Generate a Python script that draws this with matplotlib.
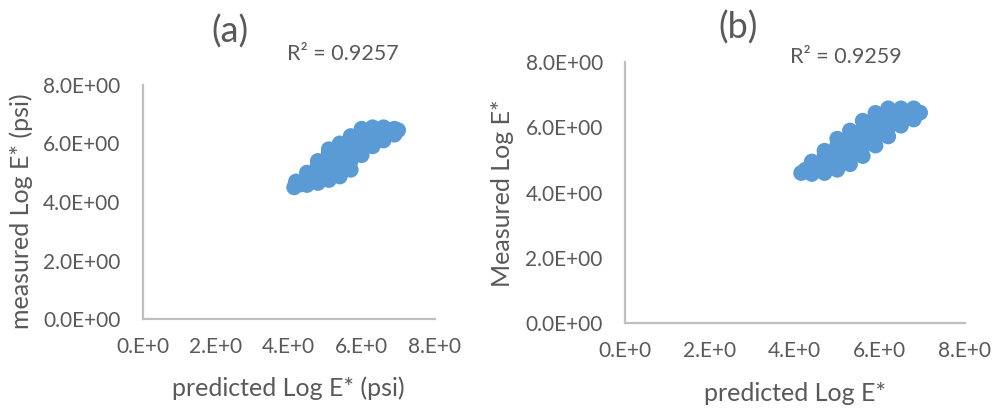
import matplotlib
matplotlib.use('Agg')
import matplotlib.pyplot as plt

# predicted / measured Log E* points
pred_a = [4.15, 4.20, 4.50, 4.50, 4.50, 4.80, 4.80, 4.80, 4.80,
          5.10, 5.10, 5.10, 5.10, 5.10, 5.40, 5.40, 5.40, 5.40, 5.40,
          5.70, 5.70, 5.70, 5.70, 5.70, 6.00, 6.00, 6.00, 6.00,
          6.30, 6.30, 6.30, 6.60, 6.60, 6.60, 6.90, 6.90, 7.00,
          4.35, 4.65, 4.95, 5.25, 5.55, 5.85, 6.15, 6.45, 6.75]
meas_a = [4.50, 4.70, 4.58, 4.85, 5.00, 4.65, 4.95, 5.25, 5.40,
          4.75, 5.05, 5.35, 5.65, 5.80, 4.87, 5.15, 5.45, 5.75, 6.00,
          5.10, 5.40, 5.70, 6.00, 6.25, 5.60, 5.90, 6.20, 6.50,
          5.90, 6.20, 6.55, 6.10, 6.35, 6.55, 6.30, 6.50, 6.45,
          4.60, 4.80, 5.10, 5.30, 5.60, 5.90, 6.10, 6.35, 6.45]

pred_b = [4.15, 4.40, 4.40, 4.40, 4.70, 4.70, 4.70, 4.70,
          5.00, 5.00, 5.00, 5.00, 5.00, 5.30, 5.30, 5.30, 5.30, 5.30,
          5.60, 5.60, 5.60, 5.60, 5.60, 5.90, 5.90, 5.90, 5.90, 5.90,
          6.20, 6.20, 6.20, 6.20, 6.50, 6.50, 6.50, 6.80, 6.80, 6.80, 6.95,
          4.25, 4.55, 4.85, 5.15, 5.45, 5.75, 6.05, 6.35, 6.65]
meas_b = [4.60, 4.57, 4.80, 4.95, 4.60, 4.85, 5.10, 5.28,
          4.70, 4.95, 5.20, 5.45, 5.65, 4.87, 5.15, 5.40, 5.65, 5.90,
          5.12, 5.40, 5.65, 5.95, 6.20, 5.44, 5.70, 5.95, 6.20, 6.44,
          5.72, 6.00, 6.30, 6.58, 6.05, 6.30, 6.58, 6.24, 6.45, 6.58, 6.45,
          4.70, 4.75, 5.00, 5.30, 5.55, 5.85, 6.10, 6.40, 6.40]

ticks = [0, 2, 4, 6, 8]
xtick_labels = ['0.E+0', '2.E+0', '4.E+0', '6.E+0', '8.E+0']
ytick_labels = ['0.0E+00', '2.0E+00', '4.0E+00', '6.0E+00', '8.0E+00']

plt.rcParams['font.family'] = ['Lato', 'DejaVu Sans']
txt = '#595959'
blue = '#5B9BD5'

fig = plt.figure(figsize=(9.99, 4.08), dpi=100)
ax_a = fig.add_axes([0.143, 0.218, 0.292, 0.574])
ax_b = fig.add_axes([0.6256, 0.208, 0.340, 0.640])

panels = [
    (ax_a, pred_a, meas_a, 'predicted Log E* (psi)', 'measured Log E* (psi)',
     (-0.377, 0.46), (0.5, -0.245)),
    (ax_b, pred_b, meas_b, 'predicted Log E*', 'Measured Log E*',
     (-0.326, 0.498), (0.5, -0.225)),
]

for ax, x, y, xl, yl, ylc, xlc in panels:
    ax.scatter(x, y, s=130, color=blue, edgecolors='none')
    ax.set_xlim(0, 8)
    ax.set_ylim(0, 8)
    ax.set_xticks(ticks)
    ax.set_yticks(ticks)
    ax.set_xticklabels(xtick_labels)
    ax.set_yticklabels(ytick_labels)
    ax.tick_params(length=0, labelsize=15, labelcolor=txt)
    ax.tick_params(axis='x', pad=13)
    ax.tick_params(axis='y', pad=16)
    for s in ['top', 'right']:
        ax.spines[s].set_visible(False)
    for s in ['left', 'bottom']:
        ax.spines[s].set_color('#BFBFBF')
        ax.spines[s].set_linewidth(1.6)
    ax.set_xlabel(xl, fontsize=18, color=txt)
    ax.set_ylabel(yl, fontsize=18, color=txt)
    ax.yaxis.set_label_coords(*ylc)
    ax.xaxis.set_label_coords(*xlc)

W, H = 999, 408
fig.text(230 / W, 1 - 32 / H, '(a)', fontsize=26, color=txt, ha='center', va='center')
fig.text(738 / W, 1 - 28 / H, '(b)', fontsize=26, color=txt, ha='center', va='center')
fig.text(343 / W, 1 - 54 / H, 'R² = 0.9257', fontsize=15.5, color=txt, ha='center', va='center')
fig.text(846 / W, 1 - 57 / H, 'R² = 0.9259', fontsize=15.5, color=txt, ha='center', va='center')

fig.savefig('out.png', dpi=100)
